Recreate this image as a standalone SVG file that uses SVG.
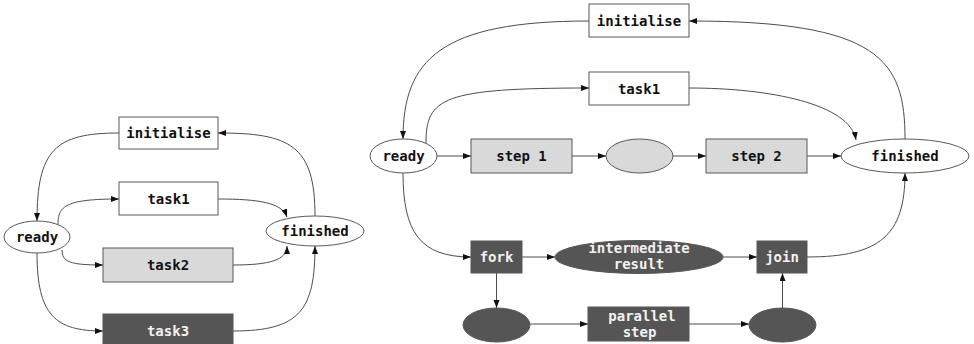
<svg xmlns="http://www.w3.org/2000/svg" width="974" height="344" viewBox="0 0 974 344">
  <style>
    .box { stroke: #595959; stroke-width: 1; }
    .white { fill: #ffffff; }
    .light { fill: #d9d9d9; }
    .dark { fill: #555555; }
    .lbl { font-family: "DejaVu Sans Mono", "Liberation Mono", monospace; font-weight: bold; font-size: 14px; text-anchor: middle; dominant-baseline: central; fill: #111111; }
    .inv { fill: #f2f2f2; }
    .edge { fill: none; stroke: #4d4d4d; stroke-width: 1; marker-end: url(#arrow); }
  </style>
  <defs>
    <marker id="arrow" markerUnits="userSpaceOnUse" markerWidth="9" markerHeight="7" refX="8" refY="3" orient="auto">
      <path d="M0,0 L8,3 L0,6 z" fill="#111111"/>
    </marker>
  </defs>
  <rect width="974" height="344" fill="#ffffff"/>

  <!-- connectors -->
  <g id="connectors">
    <!-- left workflow -->
    <path class="edge" d="M315,216 C315,145 290,133 218,133"/>
    <path class="edge" d="M119,133 C55,133 37,150 37,221"/>
    <path class="edge" d="M58,224 C58,206 66,199 119,199"/>
    <path class="edge" d="M62,250 C62,262 70,265 103,265"/>
    <path class="edge" d="M37,253 C37,315 55,331 103,331"/>
    <path class="edge" d="M218,199 C260,199 282,203 287,217"/>
    <path class="edge" d="M233,265 C270,265 287,260 287,246"/>
    <path class="edge" d="M233,331 C300,331 315,310 315,246"/>
    <!-- right workflow -->
    <path class="edge" d="M905,139 C905,60 880,21 689,21"/>
    <path class="edge" d="M589,21 C440,21 403,60 403,139"/>
    <path class="edge" d="M426,143 C426,98 442,88 589,88"/>
    <path class="edge" d="M689,88 C770,88 850,104 856,140"/>
    <path class="edge" d="M437,156 L471,156"/>
    <path class="edge" d="M572,156 L606,156"/>
    <path class="edge" d="M673,156 L706,156"/>
    <path class="edge" d="M807,156 L841,156"/>
    <path class="edge" d="M403,173 C403,232 420,257 471,257"/>
    <path class="edge" d="M522,257 L555,257"/>
    <path class="edge" d="M723,257 L757,257"/>
    <path class="edge" d="M807,257 C880,257 905,235 905,173"/>
    <path class="edge" d="M496.5,273 L496.5,308"/>
    <path class="edge" d="M530,324 L588,324"/>
    <path class="edge" d="M689,324 L749,324"/>
    <path class="edge" d="M782.5,308 L782.5,273"/>
  </g>

  <!-- left workflow nodes -->
  <g id="l-initialise">
    <rect class="box white" x="119" y="117" width="99" height="32"/>
    <text class="lbl" x="168.5" y="133">initialise</text>
  </g>
  <g id="l-task1">
    <rect class="box white" x="119" y="182" width="99" height="33"/>
    <text class="lbl" x="168.5" y="198.5">task1</text>
  </g>
  <g id="l-task2">
    <rect class="box light" x="103" y="248" width="130" height="34"/>
    <text class="lbl" x="168" y="265">task2</text>
  </g>
  <g id="l-task3">
    <rect class="box dark" x="103" y="314" width="130" height="34"/>
    <text class="lbl inv" x="168" y="331">task3</text>
  </g>
  <g id="l-ready">
    <ellipse class="box white" cx="37" cy="237" rx="33" ry="16"/>
    <text class="lbl" x="37" y="237">ready</text>
  </g>
  <g id="l-finished">
    <ellipse class="box white" cx="315" cy="231" rx="49" ry="15"/>
    <text class="lbl" x="315" y="231">finished</text>
  </g>

  <!-- right workflow nodes -->
  <g id="r-initialise">
    <rect class="box white" x="589" y="4" width="100" height="33"/>
    <text class="lbl" x="639" y="20.5">initialise</text>
  </g>
  <g id="r-task1">
    <rect class="box white" x="589" y="72" width="100" height="33"/>
    <text class="lbl" x="639" y="88.5">task1</text>
  </g>
  <g id="r-ready">
    <ellipse class="box white" cx="403.5" cy="156" rx="33.5" ry="17"/>
    <text class="lbl" x="403.5" y="156">ready</text>
  </g>
  <g id="r-step1">
    <rect class="box light" x="471" y="139" width="101" height="34"/>
    <text class="lbl" x="521.5" y="156">step 1</text>
  </g>
  <g id="r-state">
    <ellipse class="box light" cx="639.5" cy="156" rx="33.5" ry="17"/>
  </g>
  <g id="r-step2">
    <rect class="box light" x="706" y="139" width="101" height="34"/>
    <text class="lbl" x="756.5" y="156">step 2</text>
  </g>
  <g id="r-finished">
    <ellipse class="box white" cx="905" cy="156" rx="64" ry="17"/>
    <text class="lbl" x="905" y="156">finished</text>
  </g>
  <g id="r-fork">
    <rect class="box dark" x="471" y="241" width="51" height="32"/>
    <text class="lbl inv" x="496.5" y="257">fork</text>
  </g>
  <g id="r-intermediate">
    <ellipse class="box dark" cx="639" cy="257" rx="84" ry="16.5"/>
    <text class="lbl inv" x="639" y="248">intermediate</text>
    <text class="lbl inv" x="639" y="264">result</text>
  </g>
  <g id="r-join">
    <rect class="box dark" x="757" y="241" width="50" height="32"/>
    <text class="lbl inv" x="782" y="257">join</text>
  </g>
  <g id="r-split">
    <ellipse class="box dark" cx="496.5" cy="325" rx="33.5" ry="17"/>
  </g>
  <g id="r-parallel">
    <rect class="box dark" x="588" y="307" width="101" height="34"/>
    <text class="lbl inv" x="642" y="316">parallel</text>
    <text class="lbl inv" x="639.5" y="332">step</text>
  </g>
  <g id="r-merge">
    <ellipse class="box dark" cx="782.5" cy="325" rx="33.5" ry="17"/>
  </g>
</svg>
